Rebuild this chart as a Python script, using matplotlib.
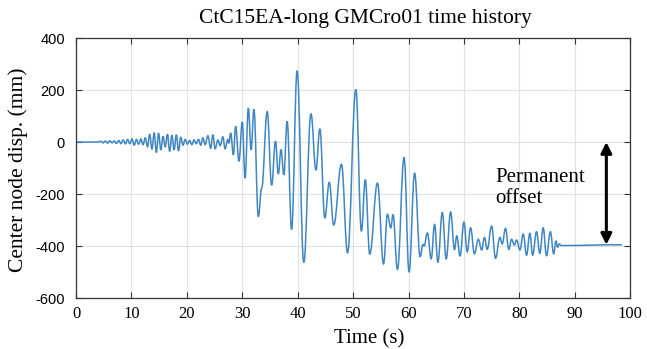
import matplotlib
matplotlib.use("Agg")
from matplotlib import pyplot as plt
from matplotlib import rcParams
from matplotlib.path import Path
from matplotlib.patches import PathPatch

rcParams["axes.unicode_minus"] = False

SERIF = "Liberation Serif"
SANS = "Liberation Sans"
LINECOLOR = "#3f86c2"

# time history (peaks, troughs and turning points)
time_s = [
    0.0, 4.0, 4.5, 4.9, 5.3, 5.7, 6.1, 6.5, 6.9, 7.3, 7.7, 8.1, 8.5, 8.9,
    9.3, 9.7, 10.1, 10.5, 10.9, 11.3, 11.7, 12.1, 12.5, 12.9, 13.3, 13.7,
    14.1, 14.5, 14.9, 15.3, 15.7, 16.1, 16.5, 16.9, 17.3, 17.7, 18.1, 18.5,
    18.9, 19.3, 19.7, 20.1, 20.5, 20.9, 21.3, 21.7, 22.1, 22.5, 22.9, 23.3,
    23.8, 24.3, 24.7, 25.1, 25.6, 26.0, 26.5, 26.9, 27.4, 27.6, 27.9, 28.4,
    28.8, 29.4, 30.0, 30.5, 31.1, 31.6, 32.1, 32.9, 33.5, 34.5, 35.3, 36.0,
    36.5, 37.0, 37.5, 38.1, 38.9, 39.9, 41.1, 42.4, 43.3, 44.0, 44.9, 45.7,
    46.5, 47.9, 49.0, 50.5, 51.5, 52.2, 53.0, 54.4, 55.5, 56.2, 56.8, 57.2,
    58.0, 59.2, 60.1, 61.1, 62.1, 62.6, 62.8, 63.4, 64.1, 64.7, 65.3, 66.1,
    66.8, 67.6, 68.3, 68.7, 69.3, 70.0, 70.6, 71.2, 71.9, 72.6, 73.2, 73.7,
    74.2, 75.0, 75.7, 76.5, 76.9, 77.5, 78.1, 78.6, 79.1, 79.5, 80.1, 80.7,
    81.3, 81.9, 82.4, 83.1, 83.7, 84.3, 84.9, 85.6, 86.2, 86.6, 86.9, 87.2,
    87.5, 98.5,
]
disp_mm = [
    0, 0, 3, -3, 4, -4, 5, -3, 4, -5, 6, -6, 8, -7,
    10, -6, 12, -12, 10, -8, 12, -10, 16, -18, 30, -28,
    36, -40, 34, -30, 22, -18, 30, -36, 26, -30, 28, -34,
    18, -12, 10, -8, 6, -10, 8, -6, 10, -12, 16, -10,
    24, -24, 28, -26, 8, -14, 20, -26, 10, -5, 35, -49,
    60, -74, 77, -139, 130, -30, 126, -287, -178, 117, -166, 3,
    -123, -29, -126, 80, -336, 274, -463, 108, -108, 51, -292, -155,
    -319, -86, -426, 202, -343, -145, -431, -158, -469, -278, -330, -279,
    -490, -59, -500, -120, -441, -394, -400, -350, -449, -317, -463, -271,
    -450, -269, -414, -361, -438, -308, -422, -330, -430, -374, -415, -367,
    -413, -323, -447, -367, -392, -332, -413, -374, -396, -377, -415, -354,
    -435, -351, -435, -345, -428, -330, -437, -345, -430, -380, -405, -392,
    -398, -395,
]

xticks = list(range(0, 101, 10))
yticks = list(range(-600, 401, 200))
offset_t = 95.7
offset_top, offset_bottom = 0, -395


def smooth_path(xs, ys, k=0.4):
    """Bezier path through the turning points with flat tangents at each."""
    verts = [(xs[0], ys[0])]
    codes = [Path.MOVETO]
    for x0, y0, x1, y1 in zip(xs[:-1], ys[:-1], xs[1:], ys[1:]):
        dx = (x1 - x0) * k
        verts += [(x0 + dx, y0), (x1 - dx, y1), (x1, y1)]
        codes += [Path.CURVE4] * 3
    return Path(verts, codes)


fig = plt.figure(figsize=(6.47, 3.49), dpi=100)
ax = fig.add_axes([0.1175, 0.146, 0.8565, 0.745])

ax.add_patch(PathPatch(smooth_path(time_s, disp_mm), fill=False,
                       edgecolor=LINECOLOR, lw=1.1))

ax.set_xlim(0, 100)
ax.set_ylim(-600, 400)
ax.set_xticks(xticks)
ax.set_yticks(yticks)
ax.grid(True, color="#e2e2e2", lw=0.8)
ax.set_axisbelow(True)
ax.tick_params(direction="in", top=True, right=True, length=4, width=0.8,
               color="#333333")
ax.tick_params(axis="x", pad=6)
ax.tick_params(axis="y", pad=8)
for lab in ax.get_xticklabels():
    lab.set_fontfamily(SERIF)
    lab.set_fontsize(12)
for lab in ax.get_yticklabels():
    lab.set_fontfamily(SANS)
    lab.set_fontsize(10.5)
for sp in ax.spines.values():
    sp.set_color("#333333")
    sp.set_linewidth(0.9)

# permanent offset arrow
ax.annotate("", xy=(offset_t, offset_top), xytext=(offset_t, offset_bottom),
            arrowprops=dict(arrowstyle="<|-|>", color="black", lw=2.2,
                            mutation_scale=16, shrinkA=0, shrinkB=0))
ax.text(75.7, -177, "Permanent\noffset", family=SERIF, fontsize=15,
        ha="left", va="center", linespacing=1.2)

fig.text(0.564, 0.948, "CtC15EA-long GMCro01 time history", family=SERIF,
         fontsize=15.5, ha="center", va="center")
fig.text(0.570, 0.03, "Time (s)", family=SERIF, fontsize=15,
         ha="center", va="center")
fig.text(0.028, 0.513, "Center node disp. (mm)", family=SERIF, fontsize=15.5,
         ha="center", va="center", rotation=90)

fig.savefig("out.png", dpi=100)
